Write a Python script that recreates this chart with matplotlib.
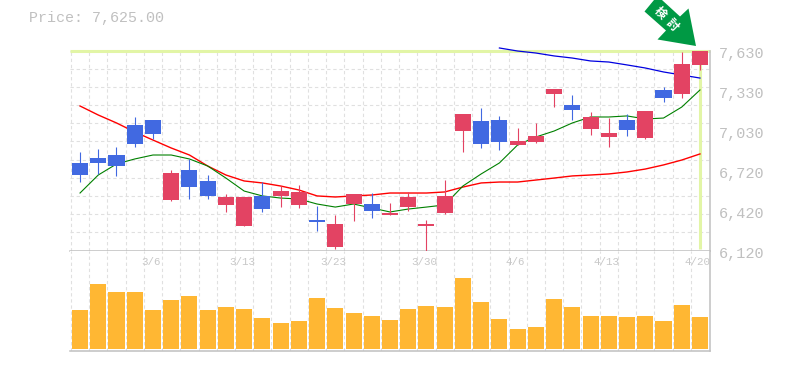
import matplotlib
matplotlib.use("Agg")
import matplotlib.pyplot as plt
from matplotlib.patches import Polygon
from matplotlib.transforms import Affine2D
import numpy as np

plt.rcParams['font.family'] = ['Liberation Mono', 'Noto Sans CJK JP', 'DejaVu Sans']

# values
highs = [6864, 6886, 6901, 7128, 7105, 6728, 6811, 6690, 6547, 6524, 6637, 6607, 6615,
         6456, 6388, 6547, 6554, 6479, 6562, 6350, 6652, 7151, 7196, 7136, 7045,
         7083, 7339, 7294, 7166, 7120, 7151, 7173, 7354, 7619, 7630]
opens = [6781, 6818, 6841, 7068, 7105, 6501, 6728, 6645, 6464, 6305, 6532, 6532, 6464,
         6350, 6146, 6471, 6471, 6388, 6448, 6305, 6403, 7022, 7098, 7105, 6917,
         6939, 7302, 7219, 7037, 6977, 7105, 6969, 7332, 7302, 7521]
closes = [6690, 6781, 6758, 6924, 7000, 6705, 6599, 6532, 6524, 6524, 6433, 6569, 6562,
          6335, 6320, 6547, 6418, 6403, 6524, 6320, 6532, 7151, 6924, 6939, 6947,
          6985, 7339, 7181, 7128, 7007, 7030, 7173, 7271, 7528, 7625]
lows = [6637, 6698, 6683, 6901, 6962, 6494, 6509, 6509, 6411, 6305, 6411, 6448, 6441,
        6267, 6131, 6343, 6365, 6388, 6418, 6120, 6396, 6864, 6894, 6879, 6917,
        6932, 7203, 7105, 6992, 6901, 6985, 6962, 7241, 7271, 7483]
ma_short = [6554, 6690, 6773, 6811, 6841, 6841, 6811, 6758, 6667, 6569, 6532, 6516, 6509,
            6471, 6448, 6471, 6441, 6411, 6433, 6448, 6464, 6607, 6698, 6781, 6917,
            6977, 7022, 7083, 7128, 7128, 7136, 7113, 7120, 7203, 7332]
ma_mid = [7211, 7143, 7083, 7015, 6954, 6894, 6841, 6758, 6690, 6645, 6630, 6607, 6577,
          6532, 6524, 6532, 6539, 6554, 6554, 6554, 6562, 6599, 6630, 6637, 6637,
          6652, 6667, 6683, 6690, 6698, 6713, 6735, 6766, 6803, 6849]
ma_long = [np.nan] * 23 + [7649, 7626, 7611, 7589, 7573, 7551, 7543, 7521, 7498, 7468, 7445, 7422]
volumes = [39, 65, 57, 57, 39, 49, 53, 39, 42, 40, 31, 26, 28, 51, 41, 36, 33, 29,
           40, 43, 42, 71, 47, 30, 20, 22, 50, 42, 33, 33, 32, 33, 28, 44, 32]
tick_prices = [6120, 6422, 6724, 7026, 7328, 7630]
price_labels = ["6,120", "6,420", "6,720", "7,030", "7,330", "7,630"]
date_pos = [4, 9, 14, 19, 24, 29, 34]
date_labels = ["3/6", "3/13", "3/23", "3/30", "4/6", "4/13", "4/20"]
last_price = 7625.00
badge_chars = ["検", "討"]

W, H = 785, 370
BLUE = "#4169e1"
RED = "#e34363"
GREY = "#c0c0c0"
GRID = "#e0e0e0"
HILITE = "#e2f5a6"

fig = plt.figure(figsize=(W / 100, H / 100), dpi=100, facecolor="white")


def add_axes(left, top, right, bottom):
    return fig.add_axes([left / W, 1 - bottom / H, (right - left) / W, (bottom - top) / H])


ax = add_axes(70, 50.5, 710, 250.5)
vax = add_axes(70, 250.5, 710, 350.5)

x = np.arange(len(opens))
xlim = (-0.55, 34.55)

# price panel
ax.set_xlim(*xlim)
ax.set_ylim(6120, 7630)
ax.set_xticks(x[:-1] + 0.5)
ax.set_xticks([-0.5], minor=True)
ax.set_xticklabels([])
ax.set_yticks(np.linspace(6120, 7630, 12))
ax.set_yticklabels([])
ax.tick_params(which="both", length=0)
ax.grid(True, which="both", color=GRID, linestyle=(0, (3, 2.5)), linewidth=0.8)
ax.set_axisbelow(True)
for s in ["top", "left"]:
    ax.spines[s].set_visible(False)
for s in ["right", "bottom"]:
    ax.spines[s].set_color(GREY)
    ax.spines[s].set_linewidth(1.1)

# crosshair on the last price
ax.plot([xlim[0], xlim[1]], [7630, 7630], color=HILITE, lw=2.2, zorder=1.5, clip_on=False, solid_capstyle="butt")
ax.plot([x[-1], x[-1]], [6130, 7630], color=HILITE, lw=2.2, zorder=1.5, clip_on=False, solid_capstyle="butt")

ax.plot(x, ma_mid, color="#ff0000", lw=1.0, zorder=2)
ax.plot(x, ma_short, color="#008000", lw=0.8, zorder=2)
ax.plot(x, ma_long, color="#0000e0", lw=0.9, zorder=2, clip_on=False)

for i in x:
    col = RED if closes[i] >= opens[i] else BLUE
    ax.vlines(i, lows[i], highs[i], color=col, lw=0.8, zorder=3, clip_on=False)
    ax.bar(i, abs(closes[i] - opens[i]), bottom=min(opens[i], closes[i]), width=0.88, color=col, zorder=4, clip_on=False)

for p, lab in zip(tick_prices, price_labels):
    ax.annotate(lab, (1, p), xycoords=("axes fraction", "data"), xytext=(6.5, -2.2), textcoords="offset points",
                ha="left", va="center", fontsize=11, color=GREY, annotation_clip=False)

# volume panel
vax.set_xlim(*xlim)
vax.set_ylim(-2, 98)
vax.set_xticks(x[:-1] + 0.5)
vax.set_xticks([-0.5], minor=True)
vax.set_xticklabels([])
vax.set_yticks([])
vax.tick_params(which="both", length=0)
vax.grid(True, which="both", axis="x", color=GRID, linestyle=(0, (3, 2.5)), linewidth=0.8)
vax.set_axisbelow(True)
for s in ["top", "left"]:
    vax.spines[s].set_visible(False)
for s in ["right", "bottom"]:
    vax.spines[s].set_color(GREY)
    vax.spines[s].set_linewidth(1.1)
vax.bar(x, volumes, width=0.88, color="#ffb733", zorder=3)

for pos, lab in zip(date_pos, date_labels):
    vax.annotate(lab, (pos, 1), xycoords=("data", "axes fraction"), xytext=(-1.5, -8.5), textcoords="offset points",
                 ha="center", va="center", fontsize=7.8, color="#c8c8c8", annotation_clip=False)

fig.text(29 / W, 1 - 18 / H, f"Price: {last_price:,.2f}", fontsize=10.8, color=GREY, ha="left", va="center")

# green badge arrow, pixel coordinates from the top left corner
px = Affine2D().scale(1, -1).translate(0, H)
arrow = [(644.5, 11.5), (654, 0), (662, 0), (680, 16.5), (688.5, 8.5), (696, 46), (657.5, 39.5), (666, 30.5)]
fig.add_artist(Polygon(arrow, closed=True, transform=px, facecolor="#009944", edgecolor="none", zorder=10))
for ch, (cx, cy) in zip(badge_chars, [(660, 13), (672, 25)]):
    fig.text(cx / W, 1 - cy / H, ch, rotation=-45, rotation_mode="anchor", fontsize=8.5, fontweight="bold",
             color="white", ha="center", va="center", zorder=11)

fig.savefig("out.png", dpi=100)
